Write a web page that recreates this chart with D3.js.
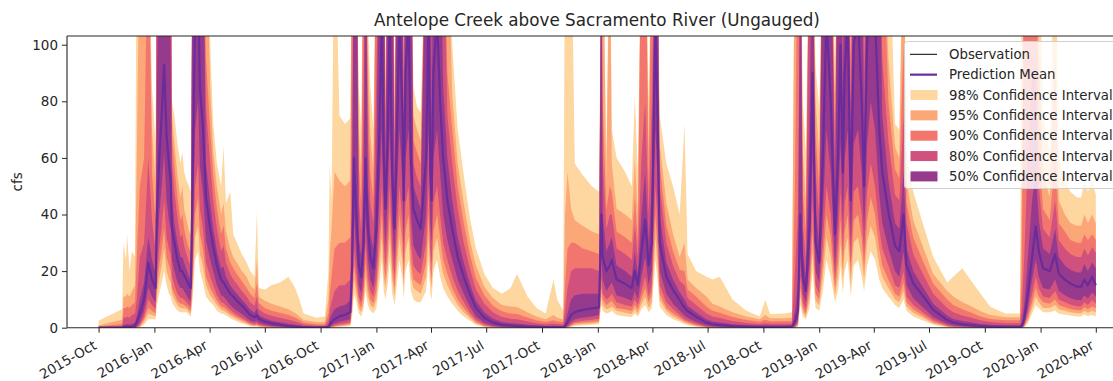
<!DOCTYPE html>
<html>
<head>
<meta charset="utf-8">
<script src="https://cdn.jsdelivr.net/npm/d3@7"></script>
<style>
  body { margin: 0; background: #fff; }
  svg { display: block; }
  text { font-family: "DejaVu Sans", sans-serif; fill: #262626; }
</style>
</head>
<body>
<svg id="chart" width="1113" height="381"></svg>
<script>
// Daily-flow prediction for an ungauged reach: mean and nested confidence intervals (cfs)
const title = "Antelope Creek above Sacramento River (Ungauged)";
const yLabel = "cfs";
const yTicks = [0, 20, 40, 60, 80, 100];

const dates = [
  "2015-10-01","2015-10-20","2015-11-09","2015-11-11","2015-11-15","2015-11-17","2015-11-21","2015-11-25","2015-11-30","2015-12-03",
  "2015-12-08","2015-12-15","2015-12-22","2015-12-28","2016-01-03","2016-01-05","2016-01-09","2016-01-13","2016-01-17","2016-01-21",
  "2016-01-25","2016-01-28","2016-01-30","2016-02-03","2016-02-08","2016-02-13","2016-02-16","2016-02-19","2016-02-23","2016-02-27",
  "2016-03-01","2016-03-04","2016-03-08","2016-03-13","2016-03-16","2016-03-21","2016-03-26","2016-04-02","2016-04-07","2016-04-13",
  "2016-04-20","2016-04-24","2016-04-28","2016-05-05","2016-05-10","2016-05-16","2016-05-24","2016-06-01","2016-06-07","2016-06-14",
  "2016-06-18","2016-06-21","2016-07-01","2016-07-12","2016-07-26","2016-08-09","2016-08-20","2016-08-27","2016-09-03","2016-09-24",
  "2016-10-08","2016-10-14","2016-10-16","2016-10-19","2016-10-24","2016-11-01","2016-11-10","2016-11-19","2016-11-22","2016-11-25",
  "2016-11-29","2016-12-03","2016-12-07","2016-12-11","2016-12-14","2016-12-18","2016-12-22","2016-12-27","2017-01-01","2017-01-06",
  "2017-01-10","2017-01-13","2017-01-16","2017-01-20","2017-01-23","2017-01-27","2017-01-31","2017-02-04","2017-02-08","2017-02-13",
  "2017-02-15","2017-02-18","2017-02-23","2017-02-27","2017-03-03","2017-03-09","2017-03-15","2017-03-24","2017-03-28","2017-03-31",
  "2017-04-02","2017-04-05","2017-04-11","2017-04-16","2017-04-21","2017-04-28","2017-05-06","2017-05-15","2017-05-25","2017-06-04",
  "2017-06-14","2017-06-28","2017-07-12","2017-07-27","2017-08-10","2017-08-21","2017-09-07","2017-09-22","2017-10-07","2017-10-20",
  "2017-10-26","2017-11-05","2017-11-08","2017-11-12","2017-11-18","2017-11-24","2017-12-07","2017-12-22","2018-01-03","2018-01-07",
  "2018-01-09","2018-01-15","2018-01-21","2018-01-24","2018-02-01","2018-02-15","2018-02-26","2018-03-03","2018-03-08","2018-03-14",
  "2018-03-20","2018-03-26","2018-03-31","2018-04-06","2018-04-09","2018-04-13","2018-04-24","2018-05-05","2018-05-16","2018-05-24",
  "2018-05-29","2018-06-12","2018-06-29","2018-07-09","2018-07-21","2018-08-11","2018-09-03","2018-09-25","2018-10-04","2018-10-12",
  "2018-11-05","2018-11-17","2018-11-22","2018-11-27","2018-12-01","2018-12-05","2018-12-10","2018-12-16","2018-12-21","2018-12-26",
  "2019-01-01","2019-01-07","2019-01-13","2019-01-20","2019-01-27","2019-02-01","2019-02-05","2019-02-09","2019-02-12","2019-02-17",
  "2019-02-22","2019-02-27","2019-03-06","2019-03-12","2019-03-16","2019-03-21","2019-03-27","2019-04-03","2019-04-10","2019-04-15",
  "2019-04-25","2019-05-06","2019-05-13","2019-05-20","2019-05-25","2019-06-05","2019-06-22","2019-07-08","2019-07-31","2019-08-10",
  "2019-08-25","2019-09-07","2019-09-24","2019-10-10","2019-11-04","2019-11-28","2019-12-01","2019-12-05","2019-12-11","2019-12-18",
  "2019-12-24","2019-12-29","2020-01-05","2020-01-16","2020-01-25","2020-01-31","2020-02-10","2020-02-19","2020-03-01","2020-03-08",
  "2020-03-13","2020-03-19","2020-03-26","2020-04-01"
];

// Prediction mean (cfs)
const mean = [
  0, 0, 0.05, 0.3, 0.3, 0.4, 0.3, 0.4, 0.6, 2,
  5, 10, 23, 17, 14, 40, 60, 75, 93, 68,
  58, 52, 35, 30, 24, 20, 20, 18.5, 17, 15,
  14, 50, 110, 120, 85, 71, 46, 35, 28.6, 22,
  17, 16, 14.5, 12, 11, 9.5, 7.9, 6, 4.5, 3.7,
  4.5, 3.2, 2.2, 1.5, 1.0, 0.6, 0.4, 0.3, 0.2, 0.1,
  0.1, 0.3, 1, 2, 3, 4, 4.5, 5.5, 22, 60,
  40, 22, 18, 30, 60, 35, 25, 21, 35, 70,
  110, 60, 42, 70, 110, 55, 35, 70, 110, 75,
  45, 90, 110, 60, 42, 38, 35, 60, 110, 55,
  45, 90, 110, 80, 60, 45, 35, 25, 18, 12,
  7, 3.5, 1.8, 1, 0.7, 0.6, 0.4, 0.3, 0.2, 0.2,
  0.2, 0.2, 0.5, 2, 4.5, 5.5, 6.3, 6.8, 7.2, 40,
  25, 20, 22, 24, 17, 15.5, 14, 20, 15, 27,
  38, 22, 30, 110, 80, 30, 18, 13.3, 9.8, 7,
  5.9, 3.9, 1.8, 1.2, 0.9, 0.6, 0.4, 0.3, 0.3, 0.3,
  0.3, 0.4, 2, 6, 40, 18, 13, 35, 90, 30,
  23, 60, 110, 80, 33, 60, 100, 55, 90, 110,
  45, 100, 110, 80, 50, 100, 120, 110, 70, 55,
  41, 29, 27, 40, 22, 15.6, 11, 6.3, 2.7, 1.8,
  1.2, 0.9, 0.6, 0.4, 0.3, 0.3, 0.5, 3, 12, 25,
  35.7, 27, 21, 20, 26, 19, 17, 15.6, 14.5, 14.5,
  17, 15, 18, 15
];

// Interval bounds [lower, upper] (cfs)
const ci50 = [
  [0,0.05],[0,0.1],[0,0.2],[0,1],[0,1],[0,1.2],[0,1],[0,1.3],[0,1.8],[0.5,4],
  [2,10],[6,16],[14,32],[11,24],[9,19],[25,80],[40,150],[50,150],[62,150],[45,150],
  [38,150],[35,95],[24,45],[20,37],[16,30],[14,25],[14,25],[13,23],[11.5,20.5],[10,18],
  [9.5,17],[30,150],[70,150],[80,150],[57,150],[48,150],[31,58],[24,44],[20,35],[15,27],
  [11.5,21],[11,21.5],[10,18],[8,15],[7,13.5],[6,12],[4.8,10],[3.5,8],[2.5,6.3],[2,5.3],
  [2.5,7],[1.7,4.5],[1,3.3],[0.6,2.5],[0.4,1.9],[0.2,1.4],[0.1,1],[0.1,0.8],[0,0.5],[0,0.3],
  [0,0.3],[0,1],[0.3,3],[0.8,4.5],[1.5,6.5],[2,7.5],[2.5,8],[3,9.5],[14,40],[40,150],
  [26,150],[15,32],[12,25],[20,50],[40,150],[24,50],[17,33],[14,28],[23,60],[48,150],
  [70,150],[40,150],[29,55],[48,150],[70,150],[37,150],[24,50],[48,150],[70,150],[50,150],
  [30,58],[60,150],[70,150],[40,150],[29,50],[26,46],[24,42],[40,150],[70,150],[37,150],
  [30,70],[60,150],[70,150],[55,150],[40,85],[31,60],[24,45],[17,32],[12,23],[7.5,15.5],
  [4,9.5],[1.7,5.5],[0.7,3.2],[0.3,2],[0.2,1.6],[0.2,1.5],[0.1,1],[0,0.8],[0,0.6],[0,0.7],
  [0,0.6],[0,0.6],[0.1,2],[0.7,5],[2,10],[3,11.5],[3.5,12],[4,12],[4.5,12],[25,150],
  [17,40],[13,27],[15,30],[16,32],[11.5,22],[10.5,20],[9.5,18],[13,27],[10,19],[18,40],
  [25,55],[15,30],[20,50],[70,150],[55,150],[20,40],[12,23],[8.5,17],[6,12.5],[4.3,10],
  [3.5,7.8],[2,5.5],[0.8,3],[0.5,2.2],[0.3,1.8],[0.2,1.2],[0.1,0.9],[0,0.7],[0,0.8],[0,0.7],
  [0,0.7],[0,0.8],[0.7,6],[3,15],[25,150],[12,26],[9,18],[23,70],[60,150],[20,42],
  [16,30],[40,150],[70,150],[55,150],[22,45],[40,150],[65,150],[37,80],[60,150],[70,150],
  [30,62],[65,150],[70,150],[55,150],[34,70],[65,150],[80,150],[70,150],[47,150],[37,75],
  [28,52],[20,37],[18,35],[27,55],[15,28],[10.5,20],[7,14],[3.8,8.5],[1.3,4.3],[0.8,3.1],
  [0.5,2.4],[0.3,1.9],[0.2,1.3],[0.1,1],[0,0.8],[0,0.8],[0.1,2],[1.5,8],[7,25],[17,45],
  [24,55],[18,38],[14,28],[13.5,26],[17,35],[13,25],[11.5,22],[10.5,20.5],[9.8,19.5],[9.8,19.5],
  [11.5,22.5],[10.3,20],[12.5,23],[11,21]
];

const ci80 = [
  [0,0.2],[0,0.4],[0,0.6],[0,3.5],[0,3.5],[0,4],[0,3.5],[0,4.5],[0,5],[0.2,10],
  [1,25],[4,30],[10,60],[8,38],[6.5,27],[18,150],[28,150],[36,150],[45,150],[32,150],
  [28,150],[26,150],[18,58],[15,48],[12,39],[10.5,32],[10.5,33],[10,29],[9,26],[8,23],
  [7.5,22],[22,150],[50,150],[58,150],[42,150],[35,150],[23,78],[18,58],[15,45],[11.5,35],
  [9,27],[8.7,29],[7.8,23],[6.3,19],[5.5,17],[4.5,15.5],[3.5,13],[2.5,11],[1.7,9],[1.3,7.8],
  [1.6,11],[1,6.5],[0.6,5],[0.3,4.2],[0.2,3.5],[0.1,2.8],[0,2.2],[0,1.7],[0,1.1],[0,0.7],
  [0,0.7],[0,2.5],[0.1,6],[0.4,9],[0.8,13],[1.2,15],[1.5,15],[2,17],[10,70],[28,150],
  [19,150],[11,45],[9,34],[15,80],[30,150],[18,68],[13,44],[11,37],[17,90],[35,150],
  [50,150],[30,150],[22,65],[35,150],[50,150],[27,150],[18,58],[35,150],[50,150],[37,150],
  [22,72],[44,150],[50,150],[30,150],[22,58],[20,53],[19,50],[30,150],[50,150],[27,150],
  [22,150],[44,150],[50,150],[40,150],[30,150],[24,75],[18,58],[13,42],[9,30],[5.5,21],
  [2.8,13.5],[1,8.5],[0.4,5.5],[0.1,3.8],[0.1,3.2],[0,3],[0,2.2],[0,1.6],[0,1.2],[0,1.5],
  [0,1.3],[0,1.2],[0,6],[0.3,14],[1.2,20],[2,21],[2.5,21],[2.8,21],[3.2,20],[18,150],
  [12,60],[10,35],[11,40],[12,40],[9,28],[8,26],[7.5,24],[10,36],[8,25],[13,60],
  [18,80],[11,40],[15,80],[50,150],[40,150],[15,50],[9,30],[6.5,22],[4.5,16.5],[3,15],
  [2.5,10.5],[1.3,8],[0.4,5],[0.2,4],[0.1,3.4],[0,2.4],[0,1.7],[0,1.3],[0,1.6],[0,1.4],
  [0,1.4],[0,1.5],[0.3,20],[1.8,40],[18,150],[9,36],[6.5,25],[17,150],[44,150],[15,55],
  [12,40],[30,150],[50,150],[40,150],[17,58],[30,150],[48,150],[27,100],[44,150],[50,150],
  [23,80],[48,150],[50,150],[40,150],[26,90],[48,150],[58,150],[50,150],[35,150],[28,95],
  [22,66],[15,47],[14,45],[20,75],[11,37],[8,26],[5.3,18.5],[2.7,12],[0.8,7],[0.4,5.5],
  [0.2,4.3],[0.1,3.6],[0,2.6],[0,2],[0,1.6],[0,1.6],[0,7],[0.8,25],[5,60],[12,90],
  [18,90],[14,50],[11,35],[10.5,32],[13,45],[10,31],[9,28],[8.2,26],[7.6,25],[7.6,25],
  [9,28],[8,25.5],[9.8,28.5],[8.5,26.5]
];

const ci90 = [
  [0,0.4],[0,0.9],[0,1.3],[0,7],[0,7],[0,7.5],[0,7],[0,8],[0,9],[0.1,25],
  [0.5,50],[3,60],[7,150],[6,55],[5,38],[14,150],[22,150],[28,150],[35,150],[25,150],
  [22,150],[20,150],[14,68],[12,57],[9.5,46],[8.5,38],[8.5,40],[8,35],[7.5,31],[6.5,28],
  [6,27],[17,150],[40,150],[46,150],[33,150],[28,150],[18,95],[14,70],[12,54],[9.5,42],
  [7.5,33],[7.2,36],[6.5,28],[5.2,23],[4.5,21],[3.7,19],[2.8,16.5],[1.9,14],[1.2,12],[0.9,10.5],
  [1.1,16],[0.7,8.8],[0.4,7],[0.15,6],[0.1,5.3],[0,4.5],[0,3.6],[0,2.8],[0,1.8],[0,1.2],
  [0,1.2],[0,5],[0,12],[0.2,18],[0.5,28],[0.8,30],[1,30],[1.4,32],[8,150],[22,150],
  [15,150],[9,58],[7,44],[12,150],[23,150],[14,85],[10,55],[8.5,46],[13,150],[27,150],
  [40,150],[23,150],[17,75],[27,150],[40,150],[21,150],[14,68],[27,150],[40,150],[29,150],
  [17,83],[34,150],[40,150],[23,150],[17,66],[16,62],[15,58],[23,150],[40,150],[21,150],
  [17,150],[34,150],[40,150],[32,150],[24,150],[19,90],[14,70],[10,50],[7,37],[4.3,26],
  [2,17.5],[0.6,11.5],[0.2,7.8],[0,5.8],[0,5],[0,4.8],[0,3.6],[0,2.6],[0,2],[0,2.6],
  [0,2.2],[0,2],[0,15],[0.1,28],[0.8,30],[1.5,30],[1.8,28],[2,27],[2.4,26],[14,150],
  [10,80],[8,42],[9,50],[9.5,48],[7,34],[6.5,32],[6,30],[8,46],[6.3,31],[10.5,150],
  [14,150],[9,50],[12,150],[40,150],[30,150],[12,58],[7,36],[5,27],[3.5,20.5],[2.3,20],
  [1.9,13.5],[0.9,11],[0.2,7.5],[0.1,6],[0,5.3],[0,3.8],[0,2.7],[0,2.1],[0,2.8],[0,2.3],
  [0,2.3],[0,2.4],[0.1,50],[1.2,150],[14,150],[7,48],[5,34],[13,150],[34,150],[12,68],
  [10,50],[23,150],[40,150],[32,150],[14,70],[23,150],[38,150],[21,150],[34,150],[40,150],
  [19,95],[38,150],[40,150],[32,150],[21,150],[38,150],[46,150],[40,150],[28,150],[22,150],
  [17,80],[12,56],[11,53],[16,100],[9,44],[6.5,32],[4.2,23],[2,15.5],[0.5,10],[0.2,8],
  [0.1,6.5],[0,5.5],[0,4],[0,3.1],[0,2.6],[0,2.6],[0,20],[0.5,150],[3.5,150],[9,150],
  [14,150],[11,65],[9,42],[8.5,38],[10,60],[8,37],[7.2,34],[6.6,31],[6.2,30],[6.2,30],
  [7.3,33],[6.5,31],[7.5,33],[7,31]
];

const ci95 = [
  [0,0.8],[0,1.8],[0,2.8],[0,11],[0,11],[0,12],[0,11],[0,13],[0,15],[0,60],
  [0.3,150],[2,150],[5,150],[4.5,70],[4,50],[11,150],[17,150],[22,150],[28,150],[20,150],
  [17,150],[16,150],[12,75],[10,65],[8,54],[7,46],[7,50],[6.8,42],[6.7,38],[5.5,34],
  [5,33],[13,150],[32,150],[36,150],[26,150],[22,150],[15,150],[11.5,85],[10,62],[8,50],
  [6.3,40],[6,44],[5.5,34],[4.3,28],[3.7,25],[3,23],[2.2,20],[1.5,18],[0.9,15],[0.6,13.5],
  [0.7,24],[0.4,11],[0.2,9.5],[0.05,8.5],[0,7.5],[0,6.5],[0,5.2],[0,4],[0,2.7],[0,2],
  [0,2],[0,10],[0,25],[0.1,35],[0.3,55],[0.5,52],[0.7,50],[1,52],[6,150],[17,150],
  [12,150],[7,70],[5.5,55],[9,150],[18,150],[11,100],[8,68],[7,56],[10,150],[22,150],
  [32,150],[18,150],[14,85],[22,150],[32,150],[17,150],[11,80],[22,150],[32,150],[23,150],
  [14,90],[27,150],[32,150],[18,150],[14,75],[13,70],[12,66],[18,150],[32,150],[17,150],
  [14,150],[27,150],[32,150],[25,150],[19,150],[15,150],[11.5,82],[8,58],[5.5,44],[3.4,31],
  [1.5,22],[0.4,14.5],[0.1,10.5],[0,8],[0,7.5],[0,7.3],[0,5.5],[0,4],[0,3],[0,4.5],
  [0,3.5],[0,3],[0,40],[0,55],[0.5,42],[1,38],[1.3,36],[1.5,34],[1.8,33],[11,150],
  [8,150],[6.5,50],[7,150],[7.5,58],[6,42],[5.3,40],[4.8,38],[6.5,60],[5,40],[8.5,150],
  [11,150],[7,62],[9,150],[32,150],[24,150],[10,65],[6,44],[4,33],[2.8,25],[1.8,30],
  [1.4,17],[0.6,14],[0.1,11],[0,8.5],[0,7.5],[0,5.5],[0,4],[0,3],[0,4.5],[0,3.3],
  [0,3.3],[0,3.5],[0,150],[0.8,150],[11,150],[5.5,62],[4,45],[10,150],[27,150],[9.5,80],
  [8,62],[18,150],[32,150],[25,150],[11.5,82],[18,150],[30,150],[17,150],[27,150],[32,150],
  [15,150],[30,150],[32,150],[25,150],[17,150],[30,150],[36,150],[32,150],[22,150],[18,150],
  [14,95],[10,64],[9,60],[13,150],[7.5,52],[5.3,38],[3.4,28],[1.5,19],[0.3,13],[0.1,11],
  [0,9],[0,7.8],[0,5.8],[0,4.5],[0,3.7],[0,3.7],[0,50],[0.3,150],[2.5,150],[7,150],
  [11,150],[9,100],[7,55],[7,46],[8,100],[6.5,45],[6,40],[5.5,37],[5.1,36],[5.1,36],
  [6,40],[5.3,37],[6,40],[5.5,37]
];

const ci98 = [
  [0,2.5],[0,4.5],[0,6.5],[0,30],[0,24],[0,33],[0,20],[0,27],[0,25],[0,150],
  [0.1,150],[1,150],[3,150],[3,85],[3,65],[8,150],[12,150],[16,150],[20,150],[15,150],
  [12,150],[11,150],[9,80],[7.5,75],[6,65],[5.5,58],[5.5,62],[5.5,55],[5.5,52],[4.5,50],
  [4,48],[10,150],[24,150],[27,150],[20,150],[16,150],[11,150],[9,100],[8,72],[6,58],
  [5,50],[4.8,64],[4.3,44],[3.3,48],[2.8,33],[2.2,30],[1.5,26],[1,23],[0.5,20],[0.3,18],
  [0.4,41],[0.2,14],[0.1,13.5],[0,15],[0,16],[0,18],[0,14],[0,10],[0,5],[0,3.5],
  [0,4],[0,20],[0,58],[0,45],[0.1,150],[0.3,75],[0.4,72],[0.6,74],[4,150],[12,150],
  [9,150],[5,85],[4,70],[7,150],[13,150],[8,110],[6,85],[5,70],[7,150],[16,150],
  [24,150],[13,150],[10,95],[16,150],[24,150],[12,150],[8,90],[16,150],[24,150],[17,150],
  [10,96],[20,150],[24,150],[13,150],[10,85],[9,78],[9,76],[13,150],[24,150],[12,150],
  [10,150],[20,150],[24,150],[18,150],[14,150],[11,150],[8.5,100],[6,70],[4,54],[2.5,39],
  [1,28],[0.2,19],[0,14],[0,12],[0,14],[0,19],[0,11],[0,7],[0,5],[0,17],
  [0,10],[0,6],[0,150],[0,150],[0.3,150],[0.6,58],[0.8,54],[1,50],[1.2,48],[8,150],
  [6,150],[5,62],[5.5,150],[6,70],[4.5,60],[4,55],[3.8,50],[5,82],[4,55],[6.5,150],
  [8,150],[5.5,80],[7,150],[24,150],[18,150],[7.5,75],[4.5,58],[3,50],[2,40],[1.2,72],
  [0.9,26],[0.3,20],[0,18],[0,17],[0,18],[0,10],[0,6],[0,4],[0,9.8],[0,4.8],
  [0,5],[0,5.5],[0,150],[0.4,150],[8,150],[4,80],[3,62],[7,150],[20,150],[7,92],
  [6,78],[13,150],[24,150],[18,150],[9,95],[13,150],[22,150],[12,150],[20,150],[24,150],
  [11,150],[22,150],[24,150],[18,150],[13,150],[22,150],[27,150],[24,150],[17,150],[14,150],
  [11,150],[8,72],[7,70],[10,150],[6,60],[4,48],[2.5,36],[1,25],[0.1,16],[0,18],
  [0,21],[0,17],[0,12],[0,7.4],[0,5],[0,5],[0,150],[0.1,150],[1.5,150],[5,150],
  [8,150],[7,150],[5.5,75],[5.5,62],[6,150],[5,60],[4.6,52],[4.3,48],[4,46],[4,46],
  [4.7,52],[4.1,48],[4.5,52],[4,47]
];

// No gauge on this reach: the observed series is empty
const observation = [];

const bandLabels = ["98% Confidence Interval", "95% Confidence Interval", "90% Confidence Interval",
                    "80% Confidence Interval", "50% Confidence Interval"];
const bandColors = ["#fdd6a0", "#fba777", "#f3766e", "#d0517e", "#963a8e"];
const meanColor = "#6a2c9a";

// ---- layout ----
const svg = d3.select("#chart");
const frame = { left: 67, top: 36, right: 1127, bottom: 327.7 };

const parse = d3.utcParse("%Y-%m-%d");
const t = dates.map(parse);

const x = d3.scaleUtc()
  .domain([parse("2015-10-01"), parse("2020-04-01")])
  .range([98.6, 1095.8]);
const y = d3.scaleLinear().domain([0, 100]).range([327.7, 44.7]);

svg.append("defs").append("clipPath").attr("id", "plot-area")
  .append("rect")
  .attr("x", frame.left).attr("y", frame.top)
  .attr("width", frame.right - frame.left).attr("height", frame.bottom - frame.top);

const plot = svg.append("g").attr("clip-path", "url(#plot-area)");

const area = d3.area()
  .x((d, i) => x(t[i]))
  .y0(d => y(d[0]))
  .y1(d => y(d[1]));

[ci98, ci95, ci90, ci80, ci50].forEach((band, k) => {
  plot.append("path").datum(band).attr("d", area).attr("fill", bandColors[k]);
});

const line = d3.line().x((d, i) => x(t[i])).y(d => y(d));
plot.append("path").datum(mean)
  .attr("d", line).attr("fill", "none")
  .attr("stroke", meanColor).attr("stroke-width", 2.2).attr("stroke-linejoin", "round");

if (observation.length) {
  plot.append("path").datum(observation)
    .attr("d", line).attr("fill", "none").attr("stroke", "#000").attr("stroke-width", 1);
}

// ---- axes ----
const axisColor = "#262626";

const yAxis = svg.append("g").attr("transform", `translate(${frame.left},0)`)
  .call(d3.axisLeft(y).tickValues(yTicks).tickSize(5).tickPadding(4));
yAxis.select(".domain").remove();
yAxis.selectAll(".tick line").attr("stroke", axisColor).attr("stroke-width", 1);
yAxis.selectAll(".tick text").style("font-size", "13.5px").attr("fill", axisColor);

const xAxis = svg.append("g").attr("transform", `translate(0,${frame.bottom})`)
  .call(d3.axisBottom(x).ticks(d3.utcMonth.every(3)).tickFormat(d3.utcFormat("%Y-%b")).tickSize(5));
xAxis.select(".domain").remove();
xAxis.selectAll(".tick line").attr("stroke", axisColor).attr("stroke-width", 1);
xAxis.selectAll(".tick text")
  .style("font-size", "13.5px").attr("fill", axisColor)
  .attr("text-anchor", "end")
  .attr("x", null).attr("y", null).attr("dy", null)
  .attr("transform", "translate(-1.6,20.3) rotate(-30)");

// spines
const spine = svg.append("g").attr("stroke", axisColor).attr("stroke-width", 1.1).attr("fill", "none");
spine.append("line").attr("x1", frame.left).attr("x2", frame.left).attr("y1", frame.top).attr("y2", frame.bottom);
spine.append("line").attr("x1", frame.left).attr("x2", frame.right).attr("y1", frame.bottom).attr("y2", frame.bottom);
spine.append("line").attr("x1", frame.left).attr("x2", frame.right).attr("y1", frame.top).attr("y2", frame.top);

// ---- labels ----
svg.append("text")
  .attr("x", (frame.left + frame.right) / 2).attr("y", 26)
  .attr("text-anchor", "middle").style("font-size", "16.8px")
  .text(title);

svg.append("text")
  .attr("transform", `translate(22,${(frame.top + frame.bottom) / 2}) rotate(-90)`)
  .attr("text-anchor", "middle").style("font-size", "13.5px")
  .text(yLabel);

// ---- legend ----
const legend = svg.append("g");
legend.append("rect")
  .attr("x", 904.5).attr("y", 41.5).attr("width", 260).attr("height", 147).attr("rx", 3)
  .attr("fill", "#fff").attr("fill-opacity", 0.8).attr("stroke", "#d0d0d0");

const rowY = i => 54.3 + i * 20.35;
const entries = [
  { label: "Observation", kind: "line", color: "#000", width: 1 },
  { label: "Prediction Mean", kind: "line", color: meanColor, width: 2.2 },
  ...bandLabels.map((l, k) => ({ label: l, kind: "patch", color: bandColors[k] }))
];
entries.forEach((e, i) => {
  const cy = rowY(i);
  if (e.kind === "line") {
    legend.append("line").attr("x1", 910).attr("x2", 937).attr("y1", cy).attr("y2", cy)
      .attr("stroke", e.color).attr("stroke-width", e.width);
  } else {
    legend.append("rect").attr("x", 910.5).attr("y", cy - 5).attr("width", 27).attr("height", 10)
      .attr("fill", e.color);
  }
  legend.append("text").attr("x", 949).attr("y", cy).attr("dy", "0.36em")
    .style("font-size", "13.3px").text(e.label);
});
</script>
</body>
</html>
